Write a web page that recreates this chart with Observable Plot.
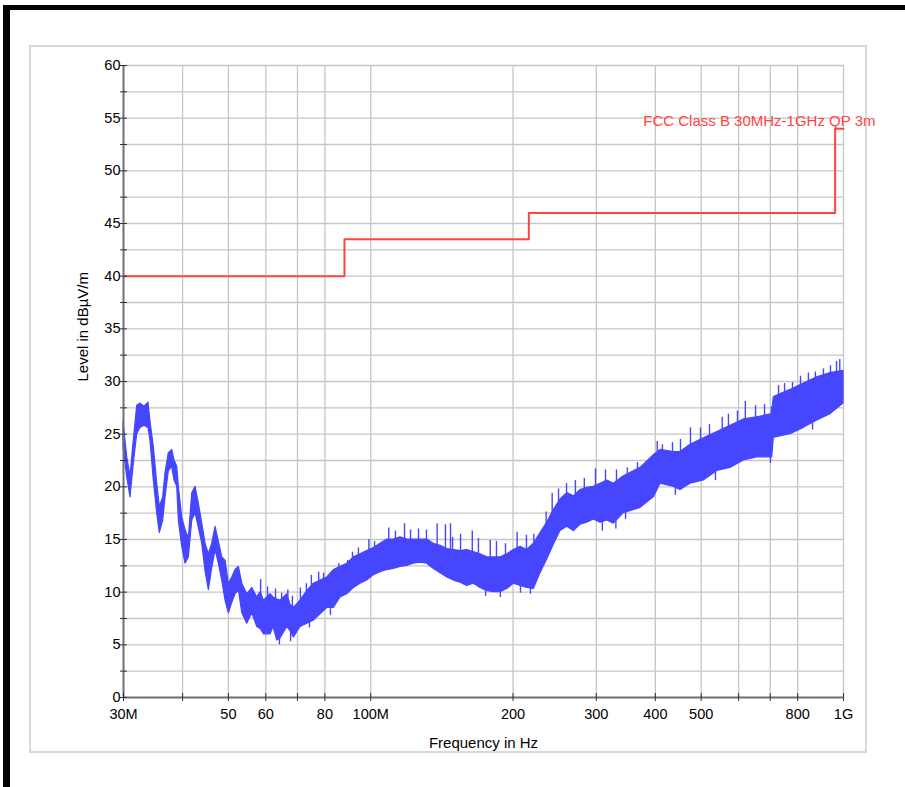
<!DOCTYPE html>
<html><head><meta charset="utf-8">
<script src="https://cdn.jsdelivr.net/npm/d3@7"></script>
<script src="https://cdn.jsdelivr.net/npm/@observablehq/plot@0.6"></script>
<style>
body{margin:0;background:#fff;}
#wrap{position:relative;width:905px;height:787px;overflow:hidden;font-family:"Liberation Sans",Arial,sans-serif;}
#frame{position:absolute;left:3px;top:5px;width:910px;height:800px;border-top:5px solid #000;border-left:7px solid #000;box-sizing:border-box;}
#panel{position:absolute;left:29px;top:45px;width:838px;height:708px;border:2px solid #d8d8d8;box-sizing:border-box;}
#chart{position:absolute;left:0;top:0;}
</style></head><body>
<div id="wrap"><div id="frame"></div><div id="panel"></div><div id="chart"></div></div>
<script>
// Measured trace (MHz, dBµV/m): lower and upper edge of the noisy band
const freqMHz = [30.0,30.55,31.04,31.54,32.07,32.59,33.23,33.88,34.21,34.77,35.35,35.80,36.40,36.81,37.41,38.03,38.46,38.97,39.28,39.93,40.58,41.24,41.93,42.61,43.30,44.02,44.73,45.46,46.22,46.97,47.73,48.53,49.31,50.11,50.95,51.77,52.62,53.50,54.81,56.16,57.55,58.5,59.43,61.39,62.3,63.43,64.45,66.60,67.67,68.78,71.05,73.42,75.80,78.31,80.90,83.56,86.32,89.18,92.10,95.14,98.30,101.5,104.9,108.4,111.9,115.6,119.5,123.3,127.4,131.7,136.0,140.5,145.2,149.9,154.9,160.0,165.2,170.7,176.4,182.1,188.2,194.4,200.7,207.4,214.3,221.3,228.6,236.2,243.9,252.0,260.4,268.9,277.8,287.0,296.4,306.2,316.4,326.7,343.0,372.2,396.9,410.1,437.5,452.1,474.6,506.4,540.6,576.7,615.3,656.8,706.6,712.0,718.0,772.6,824.3,880.0,938.5,1000];
const levelLo = [23.8,20.9,19.0,22.2,25.0,25.6,25.8,25.6,24.4,20.6,17.5,15.6,16.8,19.0,21.5,21.9,20.6,20.0,16.8,14.3,12.7,13.3,16.8,17.5,16.1,14.6,12.0,10.2,12.3,14.0,12.7,11.1,9.2,8.0,9.0,9.8,10.2,8.0,7.0,8.0,6.7,6.5,6.0,6.0,6.7,5.4,5.6,6.7,6.3,5.7,6.7,7.0,7.3,7.9,8.5,8.5,9.5,9.8,10.4,10.8,11.1,11.6,11.9,12.1,12.2,12.4,12.5,12.7,12.8,12.7,12.2,11.8,11.4,11.1,10.9,10.6,10.8,10.4,10.1,10.0,10.0,10.3,10.8,10.6,10.4,10.3,11.8,13.1,14.5,15.8,16.2,15.8,16.4,16.6,16.9,16.6,16.8,16.5,17.5,18.0,19.0,20.3,20.0,19.7,20.3,20.6,21.5,21.8,22.5,22.8,22.8,24.6,24.7,25.0,25.6,26.3,26.9,27.9];
const levelHi = [26.2,22.8,21.0,24.4,27.7,27.9,27.6,28.0,26.2,23.8,20.3,18.1,19.0,21.3,23.2,23.5,22.5,21.9,20.0,17.1,15.9,15.1,19.4,20.0,18.4,16.5,14.6,13.6,14.6,16.2,14.8,13.3,13.0,10.8,11.4,12.1,12.4,10.8,9.8,10.4,9.5,10.0,9.2,9.8,9.5,9.3,9.2,9.8,8.8,8.5,9.2,10.1,10.8,11.1,11.4,12.1,12.4,12.7,13.3,13.6,13.9,14.2,14.6,15.0,15.0,15.2,15.0,15.0,15.0,15.0,14.6,14.4,14.1,14.0,13.9,14.0,13.8,13.6,13.3,13.3,13.3,13.6,14.0,14.3,14.0,14.6,15.6,16.6,17.8,18.8,19.4,19.1,19.7,19.9,20.0,20.3,20.6,20.3,21.0,21.8,23.0,23.5,23.3,23.3,24.0,24.6,25.2,25.8,26.4,26.6,26.9,28.5,28.6,29.2,29.8,30.4,30.8,31.0];

// Isolated peaks (up and down) standing out of the band: frequency, start level, end level
const spikeMHz  = [58.5,60.5,62.9,64.8,66.8,68.3,71.0,73.1,74.9,77.6,79.5,85.6,89.4,91.5,94.2,99.1,101.9,109.2,112.8,117.9,121.4,126.2,131.2,138.2,143.9,147.5,149.0,154.9,164.0,169.0,179.0,184.5,192.8,204.0,213.5,221.3,235.0,242.0,249.6,259.5,271.0,283.0,298.8,313.8,331.0,349.0,366.6,381.0,403.6,414.0,434.8,452.1,474.6,498.4,520.7,554.0,571.0,596.7,620.0,651.6,680.7,704.0,728.8,750.4,780.0,811.0,843.0,872.0,907.0,938.5,966.7,982.0,
                   64.1,67.7,74.2,82.2,175.0,188.0,207.4,217.7,309.0,330.0,346.0,441.0,536.0,700.7,860.0];
const spikeFrom = [9.5,9.0,9.0,8.8,8.5,8.3,9.0,9.8,10.4,10.8,11.0,12.0,12.5,13.0,13.4,13.7,14.0,14.8,14.8,14.8,14.8,14.8,14.8,14.3,14.0,14.0,13.8,13.6,13.6,13.4,13.1,13.1,13.3,14.0,13.8,14.3,16.3,17.3,18.5,19.0,18.9,19.5,19.8,20.2,20.2,20.5,21.5,21.5,22.8,23.2,23.0,23.0,23.8,24.3,24.5,25.0,25.5,25.8,26.2,26.4,26.6,26.7,28.4,28.8,29.0,29.6,29.8,30.2,30.5,30.6,30.8,30.9,
                   6.0,6.5,7.5,8.6,10.3,10.2,10.8,10.6,16.8,16.8,17.6,20.2,21.6,22.9,26.1];
const spikeTo   = [11.2,10.5,10.3,9.9,10.2,9.6,10.4,10.8,11.6,11.9,11.8,12.7,13.0,13.8,14.2,15.0,14.8,16.1,15.8,16.5,15.9,16.0,15.9,16.5,16.4,16.5,15.2,15.5,15.8,15.1,14.9,14.8,14.6,15.7,15.4,15.5,17.6,19.4,19.8,20.3,20.6,20.8,21.7,21.6,21.6,21.8,22.3,22.0,24.3,24.0,24.2,24.5,25.6,25.6,25.9,26.6,26.9,27.2,28.1,27.7,27.8,27.6,29.6,29.8,29.9,30.5,30.8,30.9,31.2,31.5,31.9,32.1,
                   5.0,5.3,6.6,7.8,9.6,9.5,9.9,9.8,15.8,16.0,16.9,19.2,20.6,22.2,25.4];

// FCC Class B limit (step breakpoints)
const limitMHz = [30, 88, 216, 960, 1000];
const limitLevel = [40, 43.5, 46, 54, 54];
const limitName = "FCC Class B 30MHz-1GHz QP 3m";

const xTicks = [30,40,50,60,70,80,100,200,300,400,500,600,700,800,1000];
const xTickLabels = ["30M","","50","60","","80","100M","200","300","400","500","","","800","1G"];
const xGrid = [40,50,60,70,80,100,200,300,400,500,600,700,800,1000];
const yTicks = d3.range(0, 60.01, 2.5);
const yGrid = d3.range(2.5, 60.01, 2.5);
const xTitle = "Frequency in Hz";
const yTitle = "Level in dBµV/m";

const trace = freqMHz.map((f, i) => ({f, lo: levelLo[i], hi: levelHi[i]}));
const spikes = spikeMHz.map((f, i) => ({f, lo: spikeFrom[i], hi: spikeTo[i]}));
const limit = limitMHz.map((f, i) => ({f, v: limitLevel[i]}));
const xLabelRows = xTicks.map((f, i) => ({f, t: xTickLabels[i]})).filter(d => d.t);

const blue = "#4646ff", red = "#ff4444", gridC = "#c6c6c6", axisC = "#707070";
const font = "'Liberation Sans', Arial, sans-serif";

const chart = Plot.plot({
  width: 905, height: 787,
  marginLeft: 123, marginRight: 62, marginTop: 65, marginBottom: 90,
  style: {background: "transparent", fontFamily: font, fontSize: "14.5px", color: "#000", overflow: "visible"},
  x: {type: "log", domain: [30, 1000]},
  y: {domain: [0, 60]},
  marks: [
    Plot.gridX(xGrid, {stroke: gridC, strokeOpacity: 1, strokeWidth: 1.3}),
    Plot.gridY(yGrid, {stroke: gridC, strokeOpacity: 1, strokeWidth: 1.3}),
    Plot.areaY(trace, {x: "f", y1: "lo", y2: "hi", fill: blue, stroke: blue, strokeWidth: 1.2}),
    Plot.ruleX(spikes, {x: "f", y1: "lo", y2: "hi", stroke: blue, strokeWidth: 1.4}),
    Plot.line(limit, {x: "f", y: "v", curve: "step-after", stroke: red, strokeWidth: 2}),
    Plot.text([limitName], {frameAnchor: "top-right", textAnchor: "end", lineAnchor: "top", dx: 32, dy: 50, fill: red, fontSize: 15}),
    Plot.ruleX([30], {stroke: axisC, strokeWidth: 2}),
    Plot.ruleY([0], {stroke: axisC, strokeWidth: 2}),
    Plot.axisX(xTicks, {tickFormat: () => "", tickSize: 8, dy: -4, stroke: "#333", label: null}),
    Plot.text(xLabelRows, {x: "f", text: "t", frameAnchor: "bottom", lineAnchor: "top", dy: 11.5, fontSize: 14.5}),
    Plot.axisY(yTicks, {tickFormat: d => (d % 5 === 0 ? String(d) : ""), tickSize: 7, tickPadding: 0, dx: 4, stroke: "#333", label: null}),
    Plot.text([xTitle], {frameAnchor: "bottom", lineAnchor: "middle", dy: 45.5, fontSize: 15}),
    Plot.text([yTitle], {frameAnchor: "left", rotate: -90, dx: -40, fontSize: 15})
  ]
});
document.getElementById("chart").appendChild(chart);
</script>
</body></html>
